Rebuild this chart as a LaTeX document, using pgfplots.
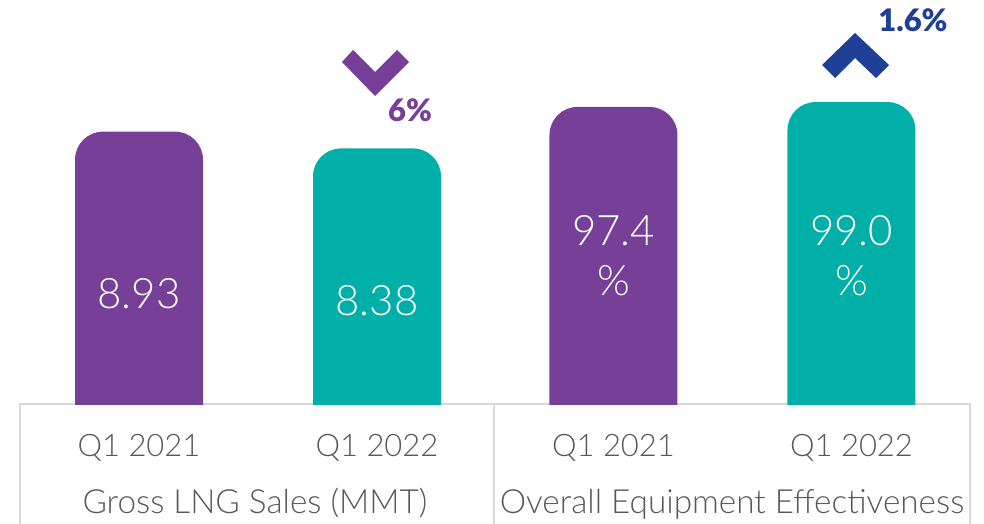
\documentclass[border=0pt]{standalone}
\usepackage{pgfplots}
\pgfplotsset{compat=1.18}
\usepackage{fontspec}
\setmainfont{Lato}
\newfontfamily\lightfont{Lato Light}
\newfontfamily\blackfont{Lato Black}

\definecolor{kpipurple}{RGB}{118,64,152}
\definecolor{kpiteal}{RGB}{0,176,168}
\definecolor{kpiblue}{RGB}{31,64,150}
\definecolor{labelgray}{RGB}{88,88,88}
\definecolor{boxgray}{RGB}{217,217,217}

\pgfplotsset{
  kpi/.style={
    scale only axis,
    height=480.25pt,
    axis lines=none,
    ybar,
    bar width=128pt,
    bar shift=0pt,
  },
}

\begin{document}
\begin{tikzpicture}[x=1pt, y=1pt]
\useasboundingbox (0,0) rectangle (984,523);

% frames under the bars
\draw[boxgray, line width=1.5pt] (20,-10) -- (20,119) -- (970,119) -- (970,-10);
\draw[boxgray, line width=1.5pt] (494,-10) -- (494,119);

% the bars start below the frame line; the clip hides their lower rounded corners
\begin{scope}
\clip (0,119) rectangle (984,523);
\begin{axis}[kpi, at={(20pt,42.75pt)}, anchor=south west,
  width=474pt, xmin=-0.5, xmax=1.4916, ymin=-2.5, ymax=13.246,
  y coord trafo/.code={\pgfmathparse{#1+2}},
  y coord inv trafo/.code={\pgfmathparse{#1-2}}]
\addplot[fill=kpipurple, draw=none, rounded corners=28pt] coordinates {(0,8.93)};
\addplot[fill=kpiteal, draw=none, rounded corners=28pt] coordinates {(1,8.38)};
\end{axis}
\begin{axis}[kpi, at={(494pt,42.75pt)}, anchor=south west,
  width=476pt, xmin=-0.502, xmax=1.498, ymin=-25, ymax=132.46,
  y coord trafo/.code={\pgfmathparse{#1+20}},
  y coord inv trafo/.code={\pgfmathparse{#1-20}}]
\addplot[fill=kpipurple, draw=none, rounded corners=28pt] coordinates {(0,97.4)};
\addplot[fill=kpiteal, draw=none, rounded corners=28pt] coordinates {(1,99.0)};
\end{axis}
\end{scope}

% category and group labels
\begin{scope}[every node/.style={text=labelgray, anchor=base, inner sep=0pt}]
\begin{scope}[font=\lightfont\fontsize{31}{31}\selectfont]
\node at (139,67) {Q1 2021};
\node at (377,67) {Q1 2022};
\node at (613.5,67) {Q1 2021};
\node at (851.5,67) {Q1 2022};
\end{scope}
\begin{scope}[font=\lightfont\fontsize{33.3}{33.3}\selectfont]
\node at (255,10) {Gross LNG Sales (MMT)};
\node at (732,10) {Overall Equipment Effectiveness};
\end{scope}
\end{scope}

% values inside the bars
\begin{scope}[every node/.style={text=white, anchor=base, inner sep=0pt,
    font=\lightfont\fontsize{42}{42}\selectfont}]
\node at (139,215) {8.93};
\node at (377,208) {8.38};
\node at (613.5,278) {97.4};
\node at (613.5,228) {\%};
\node at (851.5,278) {99.0};
\node at (851.5,228) {\%};
\end{scope}

% change markers
\fill[kpipurple] (342,461) -- (353,473) -- (375,451) -- (397,473) -- (409,461) -- (375,427) -- cycle;
\node[text=kpipurple, anchor=base, inner sep=0pt, font=\blackfont\fontsize{31}{31}\selectfont] at (410,401) {6\%};
\fill[kpiblue] (822,458) -- (855,490) -- (889,458) -- (876,445) -- (855,465) -- (835,445) -- cycle;
\node[text=kpiblue, anchor=base, inner sep=0pt, font=\blackfont\fontsize{31}{31}\selectfont] at (913,491) {1.6\%};
\end{tikzpicture}
\end{document}
